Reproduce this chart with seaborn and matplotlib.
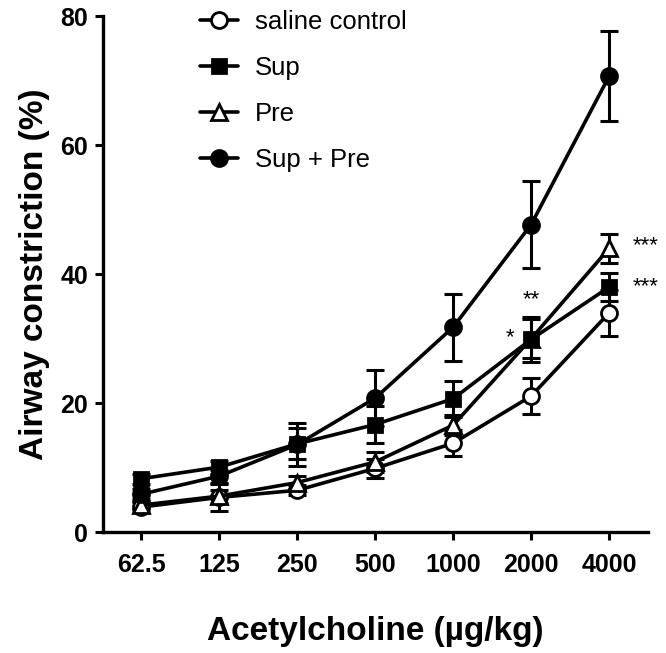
import numpy as np
import matplotlib
matplotlib.use("Agg")
import matplotlib.pyplot as plt
import seaborn as sns

# doses of acetylcholine (ug/kg)
doses = ['62.5', '125', '250', '500', '1000', '2000', '4000']

saline = [3.9, 5.4, 6.5, 9.9, 13.8, 21.1, 34.0]
saline_err = [0.8, 2.1, 0.8, 1.5, 2.0, 2.8, 3.6]
sup = [8.3, 10.1, 13.7, 16.7, 20.7, 29.9, 38.0]
sup_err = [0.8, 1.0, 2.4, 2.9, 2.8, 3.5, 2.2]
pre = [4.2, 5.6, 7.7, 10.9, 16.6, 30.0, 44.0]
pre_err = [0.6, 1.0, 1.0, 1.5, 1.5, 3.0, 2.3]
sup_pre = [5.9, 8.7, 13.6, 20.8, 31.8, 47.7, 70.7]
sup_pre_err = [0.8, 1.0, 3.3, 4.3, 5.2, 6.7, 7.0]

groups = ['saline control', 'Sup', 'Pre', 'Sup + Pre']

sns.set_style("ticks")
plt.rcParams['font.family'] = ['Liberation Sans', 'DejaVu Sans']
plt.rcParams['text.color'] = 'black'
plt.rcParams['axes.labelcolor'] = 'black'
plt.rcParams['xtick.color'] = 'black'
plt.rcParams['ytick.color'] = 'black'
plt.rcParams['axes.edgecolor'] = 'black'

fig = plt.figure(figsize=(6.66, 6.53), dpi=100)
ax = fig.add_axes([0.155, 0.185, 0.818, 0.790])

pos = np.arange(len(doses))
# values, errors, marker, face colour, size, stacking
series = [
    (saline, saline_err, 'o', 'white', 11.5, 3.0),
    (sup, sup_err, 's', 'black', 10.5, 3.3),
    (pre, pre_err, '^', 'white', 12, 3.1),
    (sup_pre, sup_pre_err, 'o', 'black', 11.5, 3.2),
]

for name, (vals, err, m, fc, ms, z) in zip(groups, series):
    ax.errorbar(pos, vals, yerr=err, fmt='none', ecolor='black',
                elinewidth=2.2, capsize=6.5, capthick=2.2, zorder=1.5)
    sns.lineplot(x=pos, y=vals, marker=m, color='black', mfc=fc, mec='black',
                 mew=2.0, ms=ms, lw=2.6, label=name, ax=ax, zorder=z)

ax.set_xlim(-0.49, 6.5)
ax.set_ylim(0, 80)
ax.set_xticks(pos)
ax.set_xticklabels(doses)
ax.set_yticks([0, 20, 40, 60, 80])

for s in ['top', 'right']:
    ax.spines[s].set_visible(False)
for s in ['left', 'bottom']:
    ax.spines[s].set_linewidth(2.4)
ax.tick_params(axis='both', length=6, width=2.2, labelsize=18, pad=5)
ax.tick_params(axis='x', pad=9)
for lab in ax.get_xticklabels() + ax.get_yticklabels():
    lab.set_fontweight('bold')

ax.set_xlabel('Acetylcholine (µg/kg)', fontsize=24, fontweight='bold', labelpad=28)
ax.set_ylabel('Airway constriction (%)', fontsize=24, fontweight='bold', labelpad=7)

# significance marks
ax.text(4.73, 30.2, '*', fontsize=16, ha='center', va='center')
ax.text(5.0, 36.0, '**', fontsize=16, ha='center', va='center')
ax.text(6.47, 44.5, '***', fontsize=16, ha='center', va='center', clip_on=False)
ax.text(6.47, 38.1, '***', fontsize=16, ha='center', va='center', clip_on=False)

ax.legend(loc='upper left', bbox_to_anchor=(0.135, 1.058), frameon=False,
          fontsize=18.5, handlelength=1.5, labelspacing=0.86, handletextpad=0.65)

fig.savefig('out.png', dpi=100)
